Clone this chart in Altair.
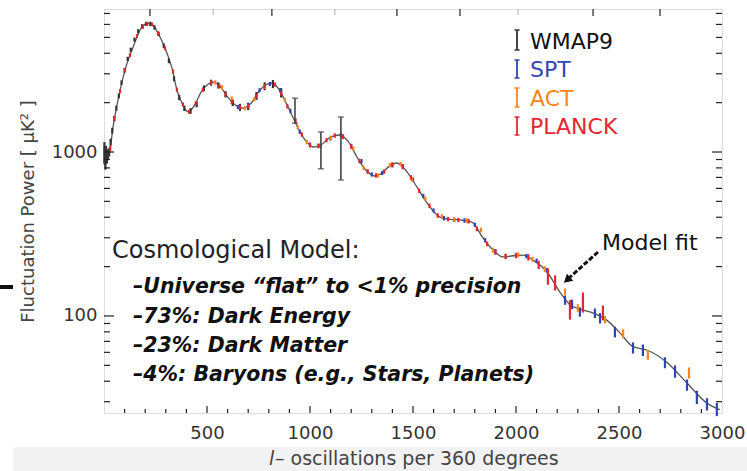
import altair as alt
import pandas as pd

# ---------------- data ----------------
model_l = [2, 10, 20, 30, 45, 68, 102, 136, 184, 214, 240, 262, 296, 330, 354, 383, 408, 440, 470, 500,
           530, 565, 600, 640, 675, 715, 757, 790, 815, 845, 875, 910, 942, 976, 1016, 1060, 1100, 1145,
           1185, 1228, 1270, 1315, 1350, 1385, 1422, 1470, 1519, 1568, 1631, 1680, 1728, 1786, 1840, 1885,
           1937, 1985, 2034, 2083, 2150, 2213, 2262, 2310, 2359, 2442, 2500, 2568, 2635, 2733, 2830, 2927, 2990]
model_D = [1000, 880, 900, 1050, 1450, 2075, 3160, 4190, 5780, 6100, 5900, 5320, 4310, 3250, 2390, 1935, 1760, 1930, 2300, 2560,
           2670, 2500, 2170, 1930, 1850, 1990, 2390, 2580, 2635, 2450, 2100, 1700, 1400, 1184, 1073, 1120, 1235, 1270,
           1160, 932, 780, 714, 745, 820, 857, 760, 612, 489, 401, 388, 385, 374, 299, 255,
           229, 233, 235, 219, 186, 140, 117, 110, 106, 94, 80, 65, 62, 52, 39, 29.4, 26.8]

wmap_l = [2, 4, 7, 10, 14, 19, 25, 32, 40, 50, 60, 72, 85, 100, 115, 130, 148, 166, 185, 205,
          225, 245, 265, 290, 315, 340, 365, 390, 420, 450, 485, 520, 555, 590, 625, 660, 700, 740, 780, 820, 860]
wmap_D = [1000, 950, 880, 1000, 920, 980, 1000, 1150, 1350, 1600, 1850, 2200, 2650, 3150, 3700, 4200, 4850, 5450, 5850, 6050,
          6050, 5750, 5250, 4450, 3600, 2800, 2150, 1850, 1780, 1950, 2450, 2650, 2550, 2250, 2000, 1870, 1900, 2200, 2520, 2600, 2300]
wmap_err = [150, 120, 100, 90, 70, 60, 55, 55, 55, 60, 65, 75, 85, 95, 110, 125, 140, 160, 170, 180,
            180, 175, 160, 140, 120, 100, 80, 70, 70, 75, 95, 110, 110, 100, 95, 95, 100, 120, 140, 150, 150]

# large WMAP9 error bars (with caps)
wbig_l = [927, 1053, 1150]
wbig_lo = [1500, 790, 675]
wbig_hi = [2130, 1325, 1635]

spt_l = [650, 700, 755, 805, 855, 905, 950, 1000, 1050, 1100, 1150, 1200, 1250, 1300, 1350, 1400, 1450, 1500, 1550, 1600,
         1650, 1700, 1750, 1800, 1850, 1900, 1950, 2000, 2050, 2100, 2150, 2238, 2272, 2310, 2383, 2408, 2480, 2568, 2616, 2723,
         2772, 2830, 2878, 2927, 2975]
spt_D = [1880, 1920, 2380, 2600, 2380, 1780, 1330, 1110, 1090, 1210, 1270, 1090, 880, 730, 745, 830, 820, 680, 540, 440,
         395, 386, 382, 360, 290, 248, 231, 234, 232, 217, 190, 125, 118, 106, 104, 97, 80, 64, 62, 52,
         46, 38, 32, 29, 27]
spt_err = [55, 55, 70, 75, 70, 55, 40, 33, 33, 36, 38, 33, 26, 22, 22, 25, 25, 20, 16, 13,
           12, 12, 12, 11, 9, 8, 7, 7, 7, 7, 6, 8, 8, 7, 7, 7, 6, 5, 5, 4,
           4, 3, 3, 2.5, 2.5]

act_l = [540, 573, 620, 685, 730, 780, 878, 940, 985, 1040, 1100, 1160, 1210, 1260, 1330, 1388, 1440, 1495, 1560, 1640,
         1700, 1760, 1830, 1888, 1950, 2010, 2080, 2140, 2238, 2300, 2432, 2520, 2640, 2840]
act_D = [2660, 2480, 2120, 1850, 2100, 2500, 2080, 1420, 1150, 1090, 1220, 1250, 1050, 800, 720, 830, 845, 680, 520, 405,
         388, 382, 335, 252, 232, 236, 222, 193, 140, 112, 95, 78, 58, 45]
act_err = [80, 75, 65, 55, 65, 75, 65, 45, 35, 33, 37, 38, 32, 25, 22, 25, 26, 21, 16, 13,
           12, 12, 11, 9, 8, 8, 8, 8, 7, 6, 5, 5, 4, 3.5]

planck_l = [30, 50, 78, 102, 126, 160, 189, 210, 233, 262, 296, 335, 354, 383, 413, 445, 480, 520, 560, 590,
            620, 660, 700, 740, 780, 830, 860, 890, 930, 960, 1000, 1040, 1080, 1120, 1160, 1200, 1240, 1280, 1320, 1360,
            1400, 1450, 1490, 1530, 1580, 1620, 1670, 1720, 1770, 1810, 1860, 1900, 1950, 2000, 2060, 2110, 2155, 2190, 2262, 2325, 2422]
planck_D = [1050, 1600, 2350, 3150, 3900, 5100, 5800, 6050, 6000, 5300, 4300, 3100, 2400, 1950, 1760, 1980, 2400, 2650, 2520, 2250,
            2020, 1870, 1900, 2200, 2520, 2580, 2280, 1900, 1550, 1280, 1100, 1090, 1180, 1260, 1240, 1080, 880, 760, 720, 760,
            840, 810, 700, 580, 470, 410, 390, 385, 378, 340, 275, 245, 230, 234, 228, 205, 175, 160, 110, 122, 105]
planck_err = [40, 50, 70, 90, 110, 140, 160, 170, 170, 150, 120, 90, 70, 55, 50, 55, 70, 75, 75, 65,
              60, 55, 55, 65, 75, 75, 70, 60, 50, 40, 35, 35, 35, 40, 40, 35, 28, 25, 22, 24,
              26, 26, 22, 18, 15, 13, 12, 12, 12, 11, 9, 9, 8, 9, 10, 12, 20, 17, 15, 17, 11]

series_names = ["WMAP9", "SPT", "ACT", "PLANCK"]
series_colors = ["#333333", "#2f45b5", "#f7861f", "#e3262f"]

x_label_values = [500, 1000, 1500, 2000, 2500, 3000]
y_label_values = [100, 1000]
x_minor_ticks = [100, 200, 300, 400, 600, 700, 800, 900, 1100, 1200, 1300, 1400, 1600, 1700, 1800, 1900,
                 2100, 2200, 2300, 2400, 2600, 2700, 2800, 2900]
x_major_ticks = [500, 1000, 1500, 2000, 2500]
top_dark_ticks = [223, 815, 1422, 1728, 2374, 2699]
top_faint_ticks = [530, 1121, 2010]
y_minor_ticks = [30, 40, 50, 60, 70, 80, 90, 200, 300, 400, 500, 600, 700, 800, 900,
                 2000, 3000, 4000, 5000, 6000, 7000]
y_major_ticks = [100, 1000]

# ---------------- chart ----------------
W, H = 618, 404
FONT = "DejaVu Sans"
FRAME = "#222222"
xs = alt.Scale(domain=[0, 3000], nice=False, zero=False)
ys = alt.Scale(type="log", domain=[25.6, 7450], nice=False)
one = pd.DataFrame({"a": [0]})

X_AXIS = alt.Axis(values=x_label_values, format="d", title=None, ticks=False, tickSize=0, domain=False,
                  grid=False, labelFont=FONT, labelFontSize=18, labelColor="#333333", labelPadding=11,
                  labelFlush=False, labelOverlap=False, labelBound=False)
Y_AXIS = alt.Axis(values=y_label_values, format="d", ticks=False, tickSize=0, domain=False,
                  grid=False, labelFont=FONT, labelFontSize=18, labelColor="#333333", labelPadding=7,
                  labelFlush=False, title="Fluctuation Power [ μK² ]", titleFont=FONT, titleFontSize=18,
                  titleFontWeight="normal", titleColor="#444444", titleX=-76, titleY=H / 2,
                  titleAlign="center", titleBaseline="middle")


def X(field):
    return alt.X(field, scale=xs, axis=X_AXIS)


def Y(field):
    return alt.Y(field, scale=ys, axis=Y_AXIS)


model_df = pd.DataFrame({"l": model_l, "D": model_D})
line = alt.Chart(model_df).mark_line(color="#555555", strokeWidth=1.3, interpolate="monotone", clip=True).encode(
    x=X("l:Q"), y=Y("D:Q"))

rows = []
for name, L, D, E in [("WMAP9", wmap_l, wmap_D, wmap_err), ("SPT", spt_l, spt_D, spt_err),
                      ("ACT", act_l, act_D, act_err), ("PLANCK", planck_l, planck_D, planck_err)]:
    for l, d, e in zip(L, D, E):
        rows.append({"series": name, "l": l, "lo": d - e, "hi": d + e})
pts_df = pd.DataFrame(rows)

color = alt.Color("series:N", scale=alt.Scale(domain=series_names, range=series_colors), legend=None)

points = alt.Chart(pts_df).mark_rule(strokeWidth=2.2).encode(
    x=X("l:Q"), y=Y("lo:Q"), y2="hi:Q", color=color)

big_df = pd.DataFrame({"l": wbig_l, "lo": wbig_lo, "hi": wbig_hi})
big_bars = alt.Chart(big_df).mark_rule(strokeWidth=1.6, color="#444444").encode(
    x=X("l:Q"), y=Y("lo:Q"), y2="hi:Q")
big_cap_lo = alt.Chart(big_df).mark_tick(orient="horizontal", size=6, thickness=1.5, color="#444444").encode(
    x=X("l:Q"), y=Y("lo:Q"))
big_cap_hi = alt.Chart(big_df).mark_tick(orient="horizontal", size=6, thickness=1.5, color="#444444").encode(
    x=X("l:Q"), y=Y("hi:Q"))


# inward ticks
def xticks(vals, y0, y1, col=FRAME):
    return alt.Chart(pd.DataFrame({"v": vals})).mark_rule(color=col, strokeWidth=1.2).encode(
        x=X("v:Q"), y=alt.value(y0), y2=alt.value(y1))


def yticks(vals, x0, x1):
    return alt.Chart(pd.DataFrame({"v": vals})).mark_rule(color=FRAME, strokeWidth=1.2).encode(
        y=Y("v:Q"), x=alt.value(x0), x2=alt.value(x1))


tick_layers = [
    xticks(x_minor_ticks, H, H - 4), xticks(x_major_ticks, H, H - 7),
    xticks(top_dark_ticks, 0, 7), xticks(top_faint_ticks, 0, 6, "#bbbbbb"),
    yticks(y_minor_ticks, 0, 6), yticks(y_major_ticks, 0, 10),
    yticks(y_minor_ticks, W, W - 6), yticks(y_major_ticks, W, W - 10),
]


def txt(s, x, y, size, col="#222222", weight="normal", style="normal", align="left", baseline="alphabetic"):
    return alt.Chart(one).mark_text(text=s, font=FONT, fontSize=size, fontWeight=weight, fontStyle=style,
                                    color=col, align=align, baseline=baseline).encode(
        x=alt.value(x), y=alt.value(y))


def prule(x0, y0, x1, y1, col, w, dash=None):
    kw = dict(color=col, strokeWidth=w)
    if dash:
        kw["strokeDash"] = dash
    return alt.Chart(one).mark_rule(**kw).encode(x=alt.value(x0), y=alt.value(y0), x2=alt.value(x1), y2=alt.value(y1))


# background band at the bottom and stray dash at the left (as in the picture)
band = alt.Chart(one).mark_rect(color="#f2f2f2").encode(
    x=alt.value(-91), x2=alt.value(643), y=alt.value(438), y2=alt.value(462))
stray = prule(-104, 278, -91, 278, "#111111", 4)

# legend
legend_layers = []
leg_y = [(21, 41, 40), (51, 69, 68), (79, 98, 97), (108, 126, 125)]
for (name, col), (t, b, base) in zip(zip(series_names, series_colors), leg_y):
    legend_layers += [prule(413, t, 413, b, col, 1.8), prule(410.5, t, 415.5, t, col, 1.5),
                      prule(410.5, b, 415.5, b, col, 1.5),
                      txt(name, 426, base, 22, col="#111111" if name == "WMAP9" else col)]

annot = [
    txt("Cosmological Model:", 8, 249, 24, col="#222222"),
    txt("–Universe “flat” to <1% precision", 29, 284, 20.5, weight="bold", style="italic", col="#111111"),
    txt("–73%: Dark Energy", 29, 314, 20.5, weight="bold", style="italic", col="#111111"),
    txt("–23%: Dark Matter", 29, 343, 20.5, weight="bold", style="italic", col="#111111"),
    txt("–4%: Baryons (e.g., Stars, Planets)", 29, 372, 20.5, weight="bold", style="italic", col="#111111"),
    txt("Model fit", 498, 241, 22, col="#111111"),
    prule(494, 243, 465, 269, "#111111", 3, [5, 2]),
    alt.Chart(one).mark_point(shape="triangle-up", filled=True, size=90, angle=228, color="#111111", opacity=1).encode(
        x=alt.value(463), y=alt.value(271)),
    txt("l", 165, 450, 19, col="#444444", style="italic", baseline="middle"),
    txt("– oscillations per 360 degrees", 171, 450, 19, col="#444444", baseline="middle"),
]

chart = alt.layer(
    band, stray, line, points, big_bars, big_cap_lo, big_cap_hi, *tick_layers, *legend_layers, *annot
).properties(
    width=W, height=H,
    padding={"left": 104, "top": 9, "right": 25, "bottom": 58},
    autosize=alt.AutoSizeParams(type="none"),
).configure_view(stroke=FRAME, strokeWidth=1.5).configure(background="white")

chart.save("out.html", embed_options={"renderer": "svg", "actions": False})
